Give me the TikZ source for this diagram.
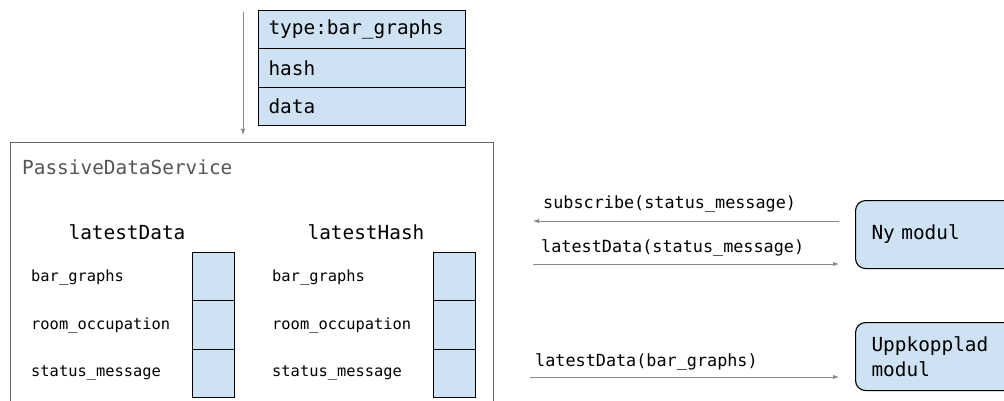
\documentclass[tikz,border=0pt]{standalone}
\usepackage{fontspec}
\setmonofont{DejaVu Sans Mono}[WordSpace={1,0,0}]
\usetikzlibrary{arrows.meta}
\definecolor{cellblue}{HTML}{CFE2F3}
\definecolor{framegray}{HTML}{666666}
\definecolor{arrowgray}{HTML}{8A8A8A}
\definecolor{labelgray}{HTML}{555555}
\newcommand\szbig{\ttfamily\fontsize{19.4}{25}\selectfont}
\newcommand\szmid{\ttfamily\fontsize{16.8}{20}\selectfont}
\newcommand\szsmall{\ttfamily\fontsize{15.4}{18}\selectfont}
\begin{document}
\begin{tikzpicture}[x=1pt,y=-1pt,
  field/.style={draw=black, fill=cellblue, line width=1.1pt, minimum width=207pt,
    minimum height=38.33pt, text width=187pt, align=left, inner xsep=10pt,
    inner ysep=0pt, anchor=north west, font=\szbig},
  slot/.style={draw=black, fill=cellblue, line width=1.1pt, minimum width=42pt,
    minimum height=48.33pt, inner sep=0pt, anchor=north west},
  key/.style={anchor=west, inner sep=0pt, font=\szsmall},
  title/.style={inner sep=0pt, font=\szbig},
  module/.style={draw=black, fill=cellblue, rounded corners=10pt, line width=1.1pt,
    minimum width=170pt, minimum height=68pt, text width=138pt, align=left,
    inner xsep=16pt, inner ysep=0pt, anchor=north west, font=\szbig},
  msg/.style={anchor=west, inner sep=0pt, font=\szmid},
  flow/.style={draw=arrowgray, line width=1pt, -{Latex[length=6pt,width=4.5pt]}}
]
\clip (0,0) rectangle (1004,401);
\useasboundingbox (0,0) rectangle (1004,401);
\fill[white] (0,0) rectangle (1004,401);

% incoming message record
\node[field] (ftype) at (258,10) {type:bar\_graphs};
\node[field] (fhash) at (258,48.33) {hash};
\node[field] (fdata) at (258,86.67) {data};

% service frame
\node[draw=framegray, line width=1pt, minimum width=483pt, minimum height=290pt,
  inner sep=0pt, anchor=north west] (svc) at (10,142) {};
\node[title, anchor=west, text=labelgray] (svcname) at (22,167) {PassiveDataService};

% message entering the service
\coordinate (inA) at (243,12);
\coordinate (inB) at (243,135);
\draw[flow] (inA) -- (inB);

% latestData table
\node[title] (ldtitle) at (127,232) {latestData};
\node[key] (ldk1) at (31,277) {bar\_graphs};
\node[key] (ldk2) at (31,325) {room\_occupation};
\node[key] (ldk3) at (31,373) {status\_message};
\node[slot] (lds1) at (192,252) {};
\node[slot] (lds2) at (192,300.33) {};
\node[slot] (lds3) at (192,348.67) {};

% latestHash table
\node[title] (lhtitle) at (366,232) {latestHash};
\node[key] (lhk1) at (272,277) {bar\_graphs};
\node[key] (lhk2) at (272,325) {room\_occupation};
\node[key] (lhk3) at (272,373) {status\_message};
\node[slot] (lhs1) at (433,252) {};
\node[slot] (lhs2) at (433,300.33) {};
\node[slot] (lhs3) at (433,348.67) {};

% client modules
\node[module] (ny) at (855,200) {Ny modul};
\node[module] (upp) at (855,322) {Uppkopplad\\modul};

% message flow between service and modules
\coordinate (subA) at (839,221);
\coordinate (subB) at (533,221);
\coordinate (ldA) at (533,264);
\coordinate (ldB) at (839,264);
\coordinate (bgA) at (530,377);
\coordinate (bgB) at (839,377);
\draw[flow] (subA) -- (subB);
\draw[flow] (ldA) -- (ldB);
\draw[flow] (bgA) -- (bgB);
\node[msg] (subtxt) at (543,204) {subscribe(status\_message)};
\node[msg] (ldtxt) at (541,248) {latestData(status\_message)};
\node[msg] (bgtxt) at (535,362) {latestData(bar\_graphs)};
\end{tikzpicture}
\end{document}
